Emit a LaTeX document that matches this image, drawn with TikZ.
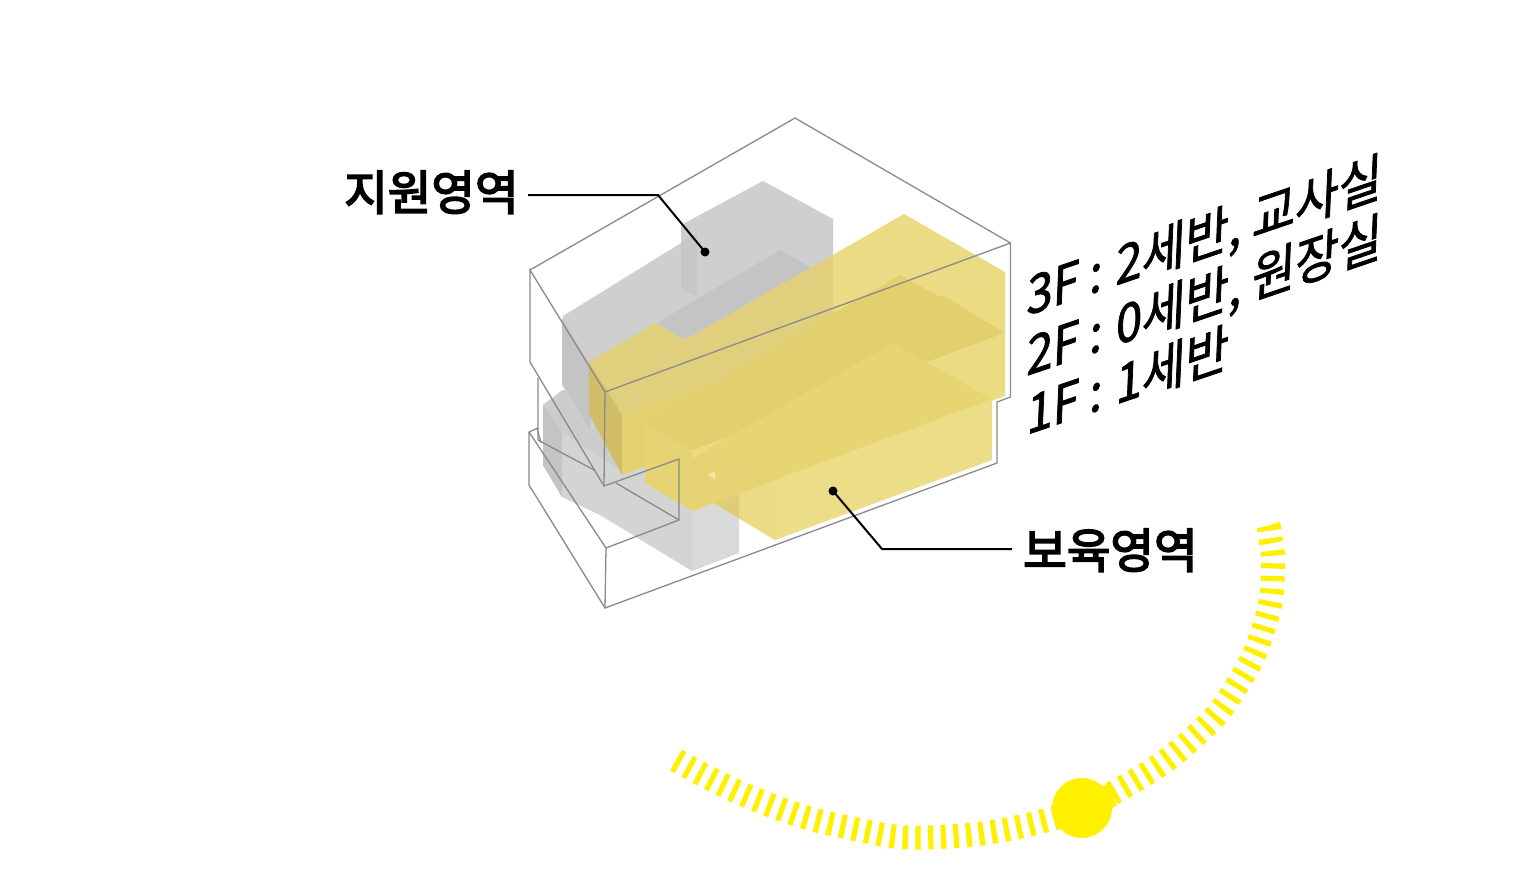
\documentclass[tikz,border=0pt]{standalone}
\usepackage{fontspec}
\setmainfont{Noto Sans CJK KR}
\newfontfamily\zonefont[FakeBold=3.6]{Noto Sans CJK KR}
\newfontfamily\floorfont[FakeBold=1.6]{Noto Sans CJK KR}
\begin{document}
\begin{tikzpicture}[x=1pt,y=-1pt,
  outl/.style={draw=black!46,line width=1.3pt,line join=miter},
  gtop/.style={fill=black!19},
  gside/.style={fill=black!23},
  gfront/.style={fill=black!17},
  gmid/.style={fill=black!23},
  leader/.style={draw=black,line width=2pt,line join=miter},
  dotn/.style={circle,fill=black,inner sep=0pt,minimum size=9pt},
  zone/.style={font=\zonefont\fontsize{47.4}{48}\selectfont,inner sep=0pt,text=black},
  floorl/.style={font=\floorfont\fontsize{47}{47}\selectfont,inner sep=0pt,anchor=base west,text=black,transform shape},
  tick/.style={draw=sunc,line width=24pt,dash pattern=on 5.2pt off 7.5pt,smooth,tension=.8}]
\definecolor{ya}{HTML}{E0D07E}
\definecolor{yb}{HTML}{EADB84}
\definecolor{yc}{HTML}{D0BD66}
\definecolor{yd}{HTML}{E3D170}
\definecolor{ye}{HTML}{E2D06E}
\definecolor{yf}{HTML}{EBDC84}
\definecolor{yg}{HTML}{E6D474}
\definecolor{yh}{HTML}{E7D572}
\definecolor{yi}{HTML}{ECDD88}
\definecolor{yj}{HTML}{DECC76}
\definecolor{yk}{HTML}{F3E9A8}
\definecolor{sunc}{HTML}{FFF000}
\useasboundingbox (0,0) rectangle (1536,888);
\fill[white] (0,0) rectangle (1536,888);
% grey lower mass
\fill[gfront] (562,390) -- (543,405) -- (543,465) -- (562,497) -- (600,515) -- (692,571) -- (692,460) -- (640,440) -- cycle;
\fill[black!15] (692,460) -- (739,470) -- (739,553) -- (692,571) -- cycle;
\fill[gside] (543,405) -- (562,430) -- (562,497) -- (543,465) -- cycle;
\fill[black!20] (567,388) -- (543,405) -- (562,432) -- (620,470) -- (600,420) -- cycle;
% grey upper mass
\fill[gtop] (563,316) -- (681,243) -- (681,225) -- (763,181) -- (833,219) -- (833,340) -- (700,420) -- (590,430) -- (562,385) -- cycle;
\fill[gside] (562,318) -- (590,365) -- (590,430) -- (562,382) -- cycle;
\fill[black!22] (681,243) -- (697,233) -- (697,297) -- (681,289) -- cycle;
\fill[gmid] (657,323) -- (780,250) -- (833,280) -- (833,290) -- (685,340) -- cycle;
% yellow 3F
\fill[yb] (685,340) -- (904,214) -- (1005,272) -- (833,336) -- cycle;
\fill[ya] (589,362) -- (655,323) -- (685,340) -- (833,255) -- (833,336) -- (622,415) -- cycle;
\fill[yc] (589,362) -- (622,415) -- (622,475) -- (589,414) -- cycle;
\fill[yd] (622,415) -- (1005,272) -- (1005,333) -- (622,475) -- cycle;
\fill[yf] (1005,272) -- (943,295) -- (1005,333) -- cycle;
% yellow 2F
\fill[ye] (645,423) -- (900,275) -- (1005,333) -- (692,451) -- cycle;
\fill[yg] (645,423) -- (692,451) -- (692,511) -- (645,483) -- cycle;
\fill[yf] (692,451) -- (1005,333) -- (1005,396) -- (692,511) -- cycle;
% yellow 1F
\fill[yb] (715,445) -- (775,480) -- (775,540) -- (715,504) -- cycle;
\fill[yj] (715,445) -- (739,459) -- (739,518) -- (715,504) -- cycle;
\fill[yg] (692,459) -- (715,445) -- (715,503) -- (692,511) -- cycle;
\fill[yg] (715,445) -- (775,480) -- (715,503) -- cycle;
\fill[yh] (715,445) -- (893,343) -- (992,399) -- (775,480) -- cycle;
\fill[yi] (775,480) -- (992,399) -- (992,460) -- (775,540) -- cycle;
\fill[yk] (708,475) -- (715,471) -- (715,479) -- cycle;
% outline
\draw[outl] (530,270) -- (795,118) -- (1010.5,243) -- (1010.5,397) -- (997,402) -- (997,463) -- (605,608) -- (529,485) -- (529,432) -- (538,428);
\draw[outl] (1010.5,243) -- (605,392) -- (530,270) -- (530,362) -- (604,486) -- (679,459) -- (679,520) -- (606,548) -- (605,608);
\draw[outl] (605,392) -- (604,486);
\draw[outl] (529,432) -- (606,548);
\draw[outl] (538,378) -- (538,440) -- (594,470);
\draw[outl] (616,483) -- (679,520);
\draw[outl] (537,428) -- (541,443);
% sun path
\draw[tick] plot coordinates {(676,760) (757,800) (850,828) (939,837) (1051,819) (1120,789) (1192,739) (1239,682) (1266,620) (1273,568) (1270,535) (1268,524)};
\fill[sunc] (1100.7,787) -- (1107.7,784) -- (1116.7,806) -- (1111.7,808) -- cycle;
\node[circle,fill=sunc,inner sep=0pt,minimum size=60pt] (sun) at (1082,808) {};
% leaders and labels
\node[zone,anchor=base west] (support) at (344,210) {지원영역};
\node[zone,anchor=base west] (care) at (1023,568) {보육영역};
\node[dotn] (d1) at (705,252) {};
\node[dotn] (d2) at (833,491) {};
\coordinate (k1a) at (528,195);
\coordinate (k1b) at (658,195);
\coordinate (k2a) at (1012,549);
\coordinate (k2b) at (882,549);
\draw[leader] (k1a) -- (k1b) -- (d1.center);
\draw[leader] (k2a) -- (k2b) -- (d2.center);
% floor text
\begin{scope}[shift={(1026,316)},cm={1,.34,.05,1.14,(0,0)}]
\node[floorl] (l3) at (0,0) {3F :\hspace{3pt} 2세반, 교사실};
\end{scope}
\begin{scope}[shift={(1026,376)},cm={1,.34,.05,1.14,(0,0)}]
\node[floorl] (l2) at (0,0) {2F :\hspace{3pt} 0세반, 원장실};
\end{scope}
\begin{scope}[shift={(1026,435)},cm={1,.34,.05,1.14,(0,0)}]
\node[floorl] (l1) at (0,0) {1F :\hspace{3pt} 1세반};
\end{scope}
\end{tikzpicture}
\end{document}
